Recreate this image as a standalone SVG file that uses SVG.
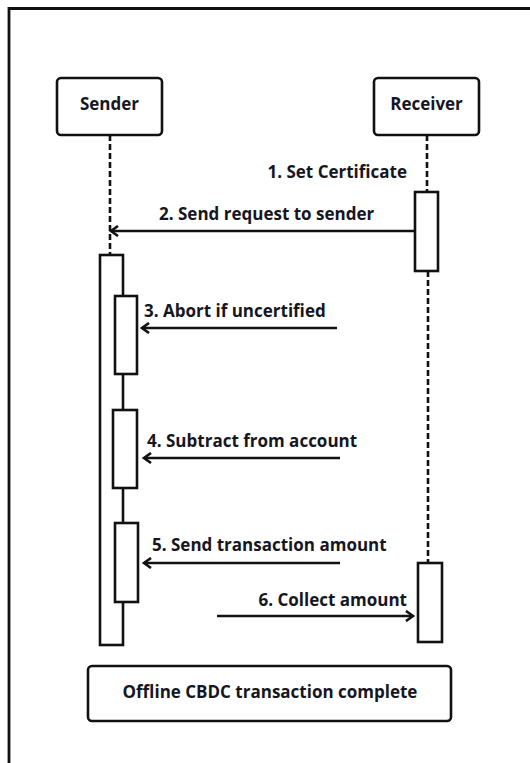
<svg xmlns="http://www.w3.org/2000/svg" width="530" height="763" viewBox="0 0 530 763">
<defs>
<style>
.t{font-family:"Open Sans","Liberation Sans",sans-serif;font-weight:700;font-size:17px;fill:#161622}
.box{fill:#fff;stroke:#111;stroke-width:2.6}
.act{fill:#fff;stroke:#111;stroke-width:2.6}
.life{stroke:#111;stroke-width:2.6;stroke-dasharray:6 3;fill:none}
.msg{stroke:#111;stroke-width:2.6;fill:none}
</style>
<marker id="open" markerWidth="12" markerHeight="12" refX="9" refY="6" orient="auto" markerUnits="userSpaceOnUse">
<path d="M2,1 L9,6 L2,11" fill="none" stroke="#111" stroke-width="2.6"/>
</marker>
</defs>
<rect width="530" height="763" fill="#fff"/>
<g id="frame">
<path d="M9,763 V8.5 H530" fill="none" stroke="#111" stroke-width="2.8"/>
</g>
<g id="lifelines">
<line class="life" x1="110" y1="135" x2="110" y2="255"/>
<line class="life" x1="427" y1="135" x2="427" y2="192"/>
<line class="life" x1="428" y1="271" x2="428" y2="563"/>
</g>
<g id="sender">
<rect class="box" x="57" y="78" width="105" height="57" rx="4"/>
<text class="t" x="109.5" y="110" text-anchor="middle">Sender</text>
</g>
<g id="receiver">
<rect class="box" x="374" y="78" width="105" height="57" rx="4"/>
<text class="t" x="426.5" y="110" text-anchor="middle">Receiver</text>
</g>
<g id="activations">
<rect class="act" x="415" y="192" width="23" height="79"/>
<rect class="act" x="100" y="255" width="23" height="390"/>
<rect class="act" x="115" y="296" width="22" height="78"/>
<rect class="act" x="113" y="410" width="24" height="78"/>
<rect class="act" x="115" y="523" width="23" height="79"/>
<rect class="act" x="418" y="563" width="24" height="79"/>
</g>
<g id="connectors">
<line class="msg" x1="415" y1="231" x2="111" y2="231" marker-end="url(#open)"/>
<line class="msg" x1="337" y1="328" x2="142" y2="328" marker-end="url(#open)"/>
<line class="msg" x1="340" y1="458" x2="144" y2="458" marker-end="url(#open)"/>
<line class="msg" x1="340" y1="563" x2="144" y2="563" marker-end="url(#open)"/>
<line class="msg" x1="217" y1="616" x2="413" y2="616" marker-end="url(#open)"/>
</g>
<g id="labels">
<text class="t" x="407" y="178" text-anchor="end">1. Set Certificate</text>
<text class="t" x="159" y="220">2. Send request to sender</text>
<text class="t" x="144" y="317">3. Abort if uncertified</text>
<text class="t" x="147" y="447">4. Subtract from account</text>
<text class="t" x="152" y="551">5. Send transaction amount</text>
<text class="t" x="407" y="606" text-anchor="end">6. Collect amount</text>
</g>
<g id="complete">
<rect class="box" x="88" y="666" width="363" height="55" rx="4"/>
<text class="t" x="270" y="698" text-anchor="middle">Offline CBDC transaction complete</text>
</g>
</svg>
